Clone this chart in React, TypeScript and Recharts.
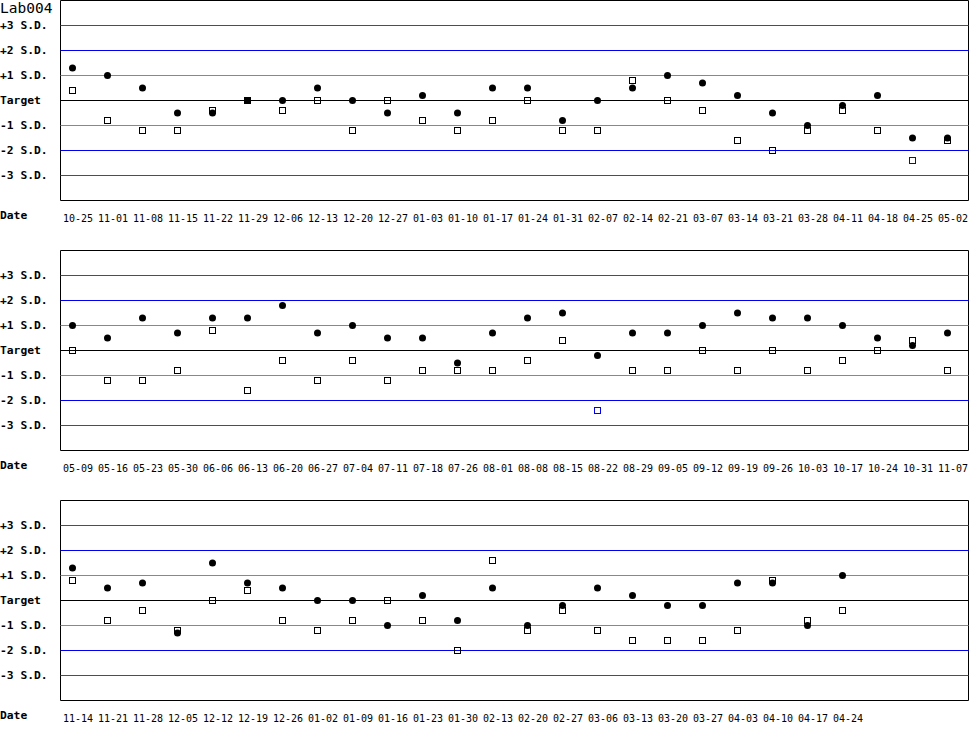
import { ScatterChart, Scatter, XAxis, YAxis, ReferenceLine, ReferenceArea } from 'recharts'

const dates1 = ['10-25', '11-01', '11-08', '11-15', '11-22', '11-29', '12-06', '12-13', '12-20', '12-27', '01-03', '01-10', '01-17', '01-24', '01-31', '02-07', '02-14', '02-21', '03-07', '03-14', '03-21', '03-28', '04-11', '04-18', '04-25', '05-02']
const circles1 = [1.3, 1.0, 0.5, -0.5, -0.5, 0, 0, 0.5, 0, -0.5, 0.2, -0.5, 0.5, 0.5, -0.8, 0, 0.5, 1.0, 0.7, 0.2, -0.5, -1.0, -0.2, 0.2, -1.5, -1.5]
const squares1 = [0.4, -0.8, -1.2, -1.2, -0.4, 0, -0.4, 0, -1.2, 0, -0.8, -1.2, -0.8, 0, -1.2, -1.2, 0.8, 0, -0.4, -1.6, -2.0, -1.2, -0.4, -1.2, -2.4, -1.6]

const dates2 = ['05-09', '05-16', '05-23', '05-30', '06-06', '06-13', '06-20', '06-27', '07-04', '07-11', '07-18', '07-26', '08-01', '08-08', '08-15', '08-22', '08-29', '09-05', '09-12', '09-19', '09-26', '10-03', '10-17', '10-24', '10-31', '11-07']
const circles2 = [1.0, 0.5, 1.3, 0.7, 1.3, 1.3, 1.8, 0.7, 1.0, 0.5, 0.5, -0.5, 0.7, 1.3, 1.5, -0.2, 0.7, 0.7, 1.0, 1.5, 1.3, 1.3, 1.0, 0.5, 0.2, 0.7]
const squares2 = [0, -1.2, -1.2, -0.8, 0.8, -1.6, -0.4, -1.2, -0.4, -1.2, -0.8, -0.8, -0.8, -0.4, 0.4, -2.4, -0.8, -0.8, 0, -0.8, 0, -0.8, -0.4, 0, 0.4, -0.8]

const dates3 = ['11-14', '11-21', '11-28', '12-05', '12-12', '12-19', '12-26', '01-02', '01-09', '01-16', '01-23', '01-30', '02-13', '02-20', '02-27', '03-06', '03-13', '03-20', '03-27', '04-03', '04-10', '04-17', '04-24']
const circles3 = [1.3, 0.5, 0.7, -1.3, 1.5, 0.7, 0.5, 0, 0, -1.0, 0.2, -0.8, 0.5, -1.0, -0.2, 0.5, 0.2, -0.2, -0.2, 0.7, 0.7, -1.0, 1.0]
const squares3 = [0.8, -0.8, -0.4, -1.2, 0, 0.4, -0.8, -1.2, -0.8, 0, -0.8, -2.0, 1.6, -1.2, -0.4, -1.2, -1.6, -1.6, -1.6, -1.2, 0.8, -0.8, -0.4]

const yTickValues = [3, 2, 1, 0, -1, -2, -3]
const yTickLabels = ['+3 S.D.', '+2 S.D.', '+1 S.D.', 'Target', '-1 S.D.', '-2 S.D.', '-3 S.D.']

const MONO = '"DejaVu Sans Mono", monospace'
const RED = '#dd1111'
const BLUE = '#0000ee'
const GREY = '#888888'

// 26 slots per panel, 35px apart
const X_MIN = -12 / 35
const X_MAX = 25.6

function YTick(props: any) {
  const idx = yTickValues.indexOf(props.payload.value)
  return (
    <text x={0} y={props.y} dominantBaseline="central" fontFamily={MONO} fontWeight="bold" fontSize={11.3} fill="#000">
      {yTickLabels[idx]}
    </text>
  )
}

function Circle(props: any) {
  return <circle cx={props.cx} cy={props.cy} r={3.5} fill="#000" />
}

function Square(props: any) {
  const v = props.payload.y
  return (
    <rect x={props.cx - 3} y={props.cy - 3} width={6} height={6} fill="none" stroke={Math.abs(v) > 2 ? BLUE : '#000'} strokeWidth={1} />
  )
}

function Panel({ dates, circles, squares }: { dates: string[]; circles: number[]; squares: number[] }) {
  const circleData = circles.map((v, i) => ({ x: i, y: v }))
  const squareData = squares.map((v, i) => ({ x: i, y: v }))
  const ticks = dates.map((_, i) => i)

  const XTick = (props: any) => (
    <text x={props.x - 9.5} y={props.y + 13} textAnchor="start" fontFamily={MONO} fontSize={10} fill="#000">
      {dates[props.payload.value]}
    </text>
  )

  return (
    <ScatterChart width={970} height={250} margin={{ top: 0.5, right: 1.5, left: 0, bottom: 0 }}>
      <XAxis type="number" dataKey="x" domain={[X_MIN, X_MAX]} allowDataOverflow ticks={ticks} interval={0}
        tick={<XTick />} tickLine={false} axisLine={false} height={49.5} />
      <YAxis type="number" dataKey="y" domain={[-4, 4]} ticks={yTickValues} interval={0}
        tick={<YTick />} tickLine={false} axisLine={false} width={60.5} />
      <ReferenceArea x1={X_MIN} x2={X_MAX} y1={-4} y2={4} fill="none" fillOpacity={0} stroke="#000" strokeWidth={1} />
      <ReferenceLine y={3} stroke={RED} strokeWidth={1} />
      <ReferenceLine y={2} stroke={BLUE} strokeWidth={1} />
      <ReferenceLine y={1} stroke={GREY} strokeWidth={1} />
      <ReferenceLine y={0} stroke="#000" strokeWidth={1} />
      <ReferenceLine y={-1} stroke={GREY} strokeWidth={1} />
      <ReferenceLine y={-2} stroke={BLUE} strokeWidth={1} />
      <ReferenceLine y={-3} stroke={RED} strokeWidth={1} />
      <Scatter data={squareData} shape={<Square />} isAnimationActive={false} />
      <Scatter data={circleData} shape={<Circle />} isAnimationActive={false} />
    </ScatterChart>
  )
}

export default function App() {
  const dateLabel = (top: number) => (
    <div style={{ position: 'absolute', left: 0, top, fontFamily: MONO, fontWeight: 'bold', fontSize: 11.3, lineHeight: 1 }}>Date</div>
  )

  return (
    <div style={{ position: 'absolute', left: 0, top: 0, width: 970, height: 750, background: '#fff' }}>
      <Panel dates={dates1} circles={circles1} squares={squares1} />
      <Panel dates={dates2} circles={circles2} squares={squares2} />
      <Panel dates={dates3} circles={circles3} squares={squares3} />
      <div style={{ position: 'absolute', left: 0, top: 1, fontFamily: MONO, fontSize: 14.5, lineHeight: 1 }}>Lab004</div>
      {dateLabel(210)}
      {dateLabel(460)}
      {dateLabel(710)}
    </div>
  )
}
